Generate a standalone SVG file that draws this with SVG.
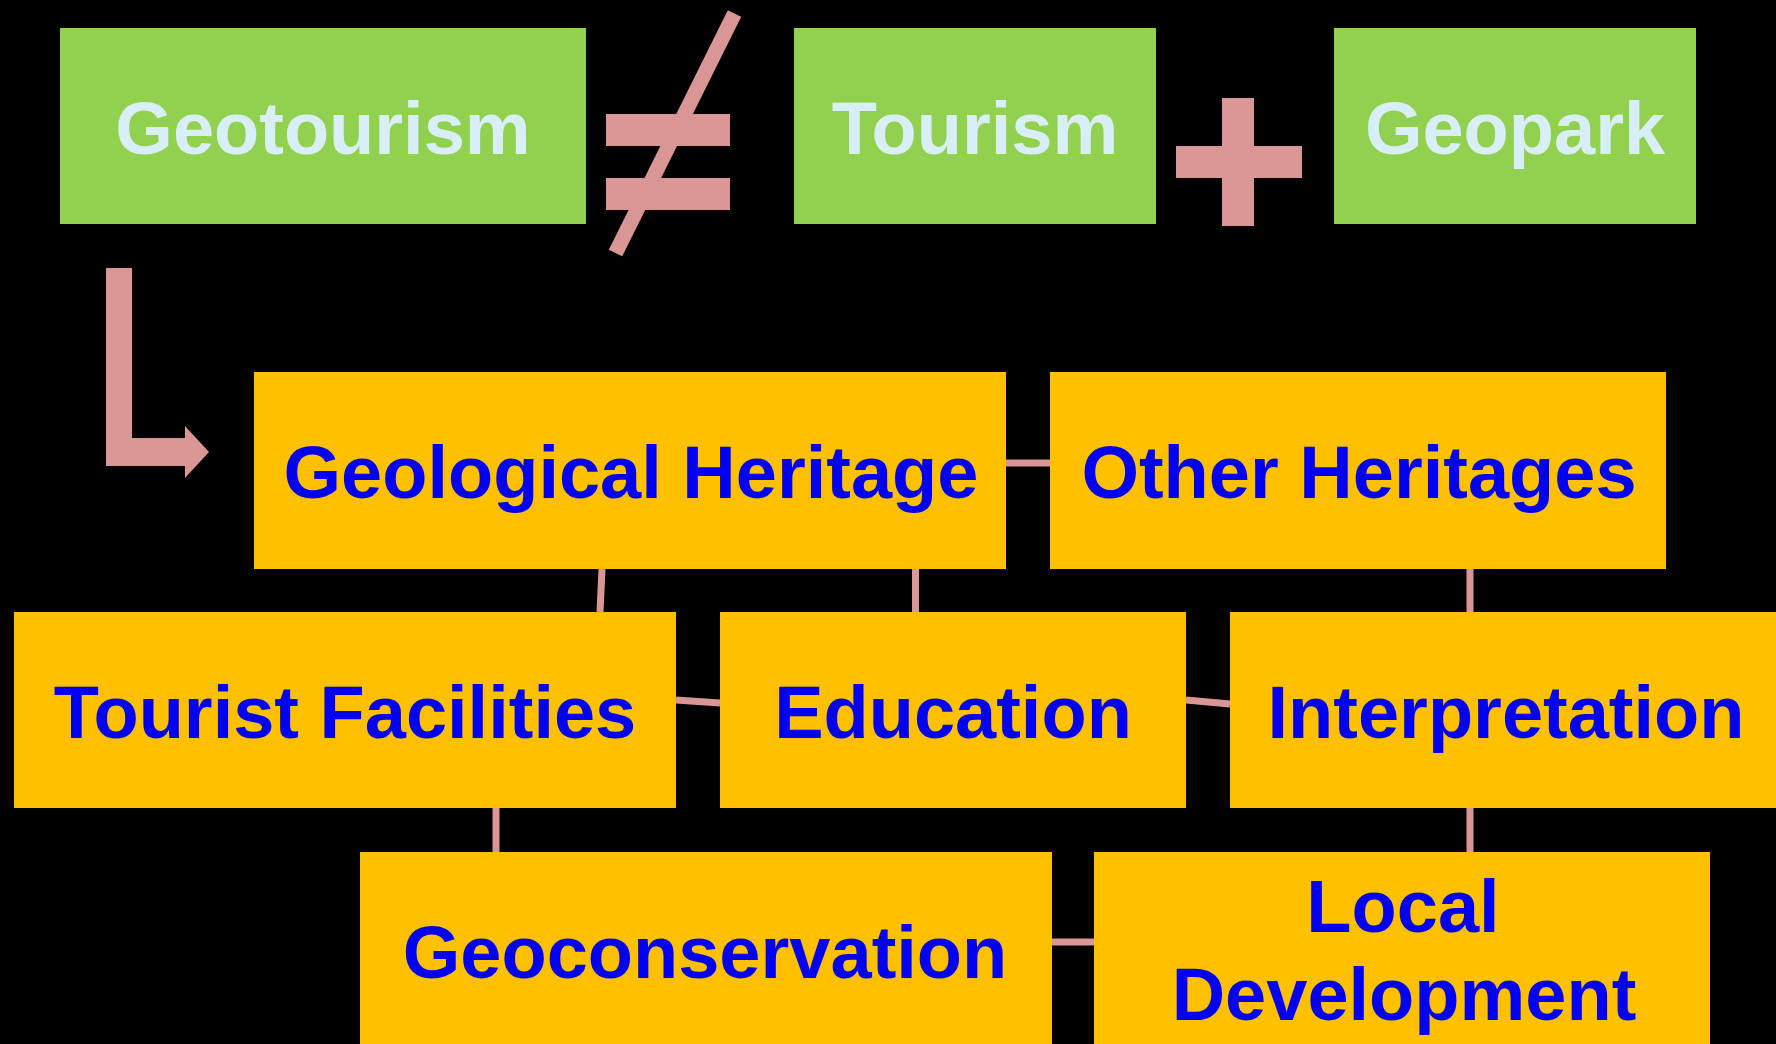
<svg xmlns="http://www.w3.org/2000/svg" width="1776" height="1044" viewBox="0 0 1776 1044">
<style>
.green{fill:#92d050}
.orange{fill:#ffc000}
.sym{fill:#d99694}
.conn{stroke:#d99694;stroke-width:7;fill:none}
.lt{font-family:"Liberation Sans",Arial,sans-serif;font-weight:bold;font-size:74px;fill:#d8eff8;text-anchor:middle}
.bt{font-family:"Liberation Sans",Arial,sans-serif;font-weight:bold;font-size:74px;fill:#0000f0;text-anchor:middle}
</style>
<rect width="1776" height="1044" fill="#000"/>
<g id="connectors">
<line class="conn" x1="1006" y1="463" x2="1050" y2="463"/>
<line class="conn" x1="602" y1="569" x2="600" y2="612"/>
<line class="conn" x1="915.5" y1="569" x2="915.5" y2="612"/>
<line class="conn" x1="1470" y1="569" x2="1470" y2="612"/>
<line class="conn" x1="676" y1="700" x2="720" y2="703"/>
<line class="conn" x1="1186" y1="700" x2="1230" y2="704"/>
<line class="conn" x1="496" y1="808" x2="496" y2="852"/>
<line class="conn" x1="1470" y1="808" x2="1470" y2="852"/>
<line class="conn" x1="1052" y1="942" x2="1094" y2="942"/>
</g>
<g id="not-equal">
<rect class="sym" x="606" y="114" width="124" height="32"/>
<rect class="sym" x="606" y="178" width="124" height="32"/>
<line x1="734.5" y1="13.5" x2="615.5" y2="253" stroke="#d99694" stroke-width="15"/>
</g>
<g id="plus">
<rect class="sym" x="1176" y="146" width="126" height="32"/>
<rect class="sym" x="1222" y="98" width="32" height="128"/>
</g>
<g id="arrow">
<polygon class="sym" points="106,268 132,268 132,438 185,438 185,426 209,452 185,478 185,466 106,466"/>
</g>
<g id="geotourism">
<rect class="green" x="60" y="28" width="526" height="196"/>
<text class="lt" x="323" y="154">Geotourism</text>
</g>
<g id="tourism">
<rect class="green" x="794" y="28" width="362" height="196"/>
<text class="lt" x="975" y="154">Tourism</text>
</g>
<g id="geopark">
<rect class="green" x="1334" y="28" width="362" height="196"/>
<text class="lt" x="1515" y="154">Geopark</text>
</g>
<g id="geological-heritage">
<rect class="orange" x="254" y="372" width="752" height="197"/>
<text class="bt" x="631" y="498">Geological Heritage</text>
</g>
<g id="other-heritages">
<rect class="orange" x="1050" y="372" width="616" height="197"/>
<text class="bt" x="1359" y="498">Other Heritages</text>
</g>
<g id="tourist-facilities">
<rect class="orange" x="14" y="612" width="662" height="196"/>
<text class="bt" x="345" y="738">Tourist Facilities</text>
</g>
<g id="education">
<rect class="orange" x="720" y="612" width="466" height="196"/>
<text class="bt" x="953" y="738">Education</text>
</g>
<g id="interpretation">
<rect class="orange" x="1230" y="612" width="560" height="196"/>
<text class="bt" x="1506" y="738">Interpretation</text>
</g>
<g id="geoconservation">
<rect class="orange" x="360" y="852" width="692" height="200"/>
<text class="bt" x="705" y="978">Geoconservation</text>
</g>
<g id="local-development">
<rect class="orange" x="1094" y="852" width="616" height="200"/>
<text class="bt" x="1403" y="932">Local</text>
<text class="bt" x="1404" y="1020">Development</text>
</g>
</svg>
